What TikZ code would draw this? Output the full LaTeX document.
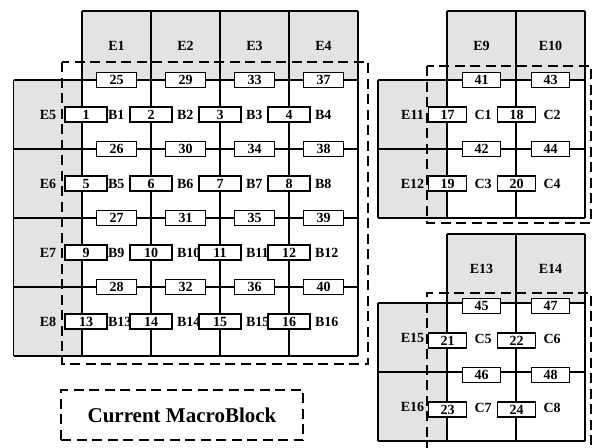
\documentclass[tikz,border=0pt]{standalone}
\usepackage{fontspec}
\setmainfont{Liberation Serif}

\begin{document}
\begin{tikzpicture}[x=1pt, y=-1pt, line width=1.2pt,
  cell/.style={fill=black!11},
  numbox/.style={draw, fill=white, inner sep=0pt, minimum height=15pt,
    font=\fontsize{14}{15}\selectfont\bfseries},
  hbox/.style={numbox, minimum width=40pt},
  vbox/.style={numbox, minimum width=42pt},
  lbl/.style={inner sep=0pt, font=\fontsize{14}{15}\selectfont\bfseries},
  mbdash/.style={dash pattern=on 10pt off 5.5pt, line width=1.1pt}]
  \useasboundingbox (0,0) rectangle (596,447);

  % big grid: B1..B16
  \fill[cell] (82,11) rectangle (358,80);
  \fill[cell] (13.5,80) rectangle (82,356);
  \draw (82,11) -- (358,11);
  \draw (13.5,80) -- (13.5,356);
  \foreach \x in {82,151,220,289,358} \draw (\x,11) -- (\x,356);
  \foreach \y in {80,149,218,287,356} \draw (13.5,\y) -- (358,\y);
  \foreach \i in {1,...,4} {
    \node[lbl] (E\i) at ({47.5+69*\i},45.5) {E\i};
    \pgfmathtruncatemacro\k{\i+4}
    \node[lbl] (E\k) at (48,{45.5+69*\i}) {E\k};
  }
  \draw[mbdash] (62,62) rectangle (368,364);
  \foreach \c in {0,...,3} {
    \foreach \r in {0,...,3} {
      \pgfmathtruncatemacro\n{25+4*\c+\r}
      \node[hbox] (n\n) at ({116.5+69*\c},{80+69*\r}) {\n};
      \pgfmathtruncatemacro\m{1+4*\r+\c}
      \pgfmathsetmacro\dx{ifthenelse(\c==0,4,0)}
      \node[vbox] (n\m) at ({82+69*\c+\dx},{114.5+69*\r}) {\m};
      \node[lbl, anchor=west] (B\m) at ({107.5+69*\c},{114.5+69*\r}) {B\m};
    }
  }

  % small grids: C1..C4 and C5..C8
  \foreach \g in {0,1} {
    \pgfmathsetmacro\t{11+223*\g}
    \fill[cell] (447,\t) rectangle (585,\t+69);
    \fill[cell] (378,\t+69) rectangle (447,\t+207);
    \draw (447,\t) -- (585,\t);
    \draw (378,\t+69) -- (378,\t+207);
    \foreach \x in {447,516,585} \draw (\x,\t) -- (\x,\t+207);
    \foreach \y in {69,138,207} \draw (378,\t+\y) -- (585,\t+\y);
    \foreach \i in {0,1} {
      \pgfmathtruncatemacro\k{9+4*\g+\i}
      \node[lbl] (E\k) at ({481.5+69*\i},\t+34.5) {E\k};
      \pgfmathtruncatemacro\k{11+4*\g+\i}
      \node[lbl] (E\k) at (412.5,{\t+103.5+69*\i}) {E\k};
    }
  }
  \draw[mbdash] (427,66) rectangle (591,223);
  \draw[mbdash] (427,452) -- (427,293) -- (591,293) -- (591,452);
  \foreach \g in {0,1} {
    \pgfmathsetmacro\t{11+223*\g}
    \pgfmathsetmacro\s{3*\g}
    \foreach \c in {0,1} {
      \foreach \r in {0,1} {
        \pgfmathtruncatemacro\n{41+4*\g+2*\c+\r}
        \node[hbox, minimum width=38pt] (n\n) at ({481.5+69*\c},{\t+69+69*\r+\s}) {\n};
        \pgfmathtruncatemacro\m{17+4*\g+2*\r+\c}
        \node[vbox, minimum width=38pt] (n\m) at ({447.5+69*\c},{\t+103.5+69*\r+\s}) {\m};
        \pgfmathtruncatemacro\q{1+4*\g+2*\r+\c}
        \node[lbl, anchor=west] (C\q) at ({474+69*\c},{\t+103.5+69*\r+\s/2}) {C\q};
      }
    }
  }

  \node[draw, mbdash, minimum width=242pt, minimum height=50pt,
    font=\fontsize{21}{24}\selectfont\bfseries] (cmb) at (182,415) {Current MacroBlock};
\end{tikzpicture}
\end{document}
